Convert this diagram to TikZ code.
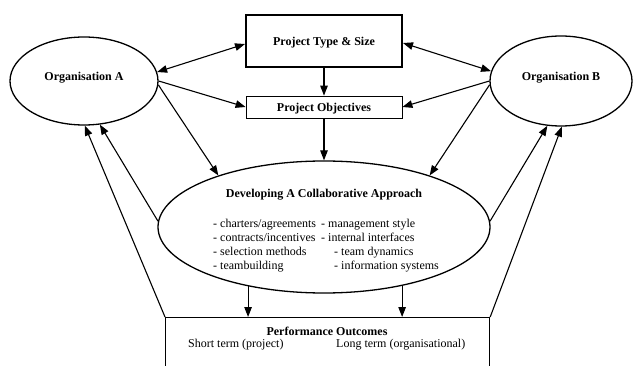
\documentclass[tikz,border=0pt]{standalone}
\usepackage{fontspec}
\setmainfont{Liberation Serif}
\usetikzlibrary{shapes.geometric,arrows.meta,calc}
\tikzset{
  tip/.tip={Triangle[length=10pt,width=7.5pt]},
  arr/.style={-tip, line width=1.1pt},
  darr/.style={tip-tip, line width=1.1pt},
  oval/.style={draw, ellipse, line width=1.3pt, inner sep=0pt},
  ttl/.style={font=\fontsize{12}{14}\selectfont\bfseries, anchor=base, inner sep=0pt},
  txt/.style={font=\fontsize{12}{14}\selectfont, anchor=base west, inner sep=0pt},
}
\begin{document}
\begin{tikzpicture}[x=1pt,y=-1pt]
\useasboundingbox (0,0) rectangle (634,366);
\clip (0,0) rectangle (634,366);
\fill[white] (0,0) rectangle (634,366);
% shapes
\node[oval, minimum width=148pt, minimum height=88pt] (orgA) at (84,81) {};
\node[oval, minimum width=142pt, minimum height=90pt] (orgB) at (561,81) {};
\node[oval, minimum width=332pt, minimum height=132pt] (collab) at (324,227) {};
\node[draw, line width=2pt, minimum width=156pt, minimum height=52pt, inner sep=0pt] (pt) at (324,41) {};
\node[draw, line width=0.8pt, minimum width=156pt, minimum height=22pt, inner sep=0pt] (po) at (324,107) {};
\node[draw, line width=1.2pt, minimum width=324pt, minimum height=90pt, inner sep=0pt, anchor=north west] (perf) at (165,317) {};
% texts
\node[ttl] (tA) at (84,81) {Organisation A};
\node[ttl] (tB) at (561,81) {Organisation B};
\node[ttl] (tpt) at (324,46) {Project Type \& Size};
\node[ttl] (tpo) at (324,112) {Project Objectives};
\node[ttl] (tcol) at (324,197) {Developing A Collaborative Approach};
\node[txt] (l1) at (213,227) {- charters/agreements};
\node[txt] (l2) at (213,241) {- contracts/incentives};
\node[txt] (l3) at (213,255) {- selection methods};
\node[txt] (l4) at (213,269) {- teambuilding};
\node[txt] (r1) at (321,227) {- management style};
\node[txt] (r2) at (321,241) {- internal interfaces};
\node[txt] (r3) at (334,255) {- team dynamics};
\node[txt] (r4) at (334,269) {- information systems};
\node[ttl] (tperf) at (327,335) {Performance Outcomes};
\node[txt] (s1) at (188,347) {Short term (project)};
\node[txt] (s2) at (336,347) {Long term (organisational)};
% connectors
\draw[darr] ([yshift=-3pt]pt.west) -- (orgA.7);
\draw[darr] ([yshift=-2pt]pt.east) -- (orgB.172);
\draw[arr] (pt.south) -- (po.north);
\draw[arr] (orgA.0) -- (po.west);
\draw[arr] (orgB.180) -- (po.east);
\draw[arr] (orgA.-3) -- (collab.154);
\draw[arr] (orgB.183) -- (collab.26);
\draw[arr] (po.south) -- (collab.north);
\draw[arr] (collab.178) -- (orgA.-70);
\draw[arr] (perf.north west) -- (orgA.-89);
\draw[arr] (collab.2) -- (orgB.-107);
\draw[arr] (perf.north east) -- (orgB.-89);
\draw[arr] (collab.-142.8) -- (collab.-142.8 |- perf.north);
\draw[arr] (collab.-37.2) -- (collab.-37.2 |- perf.north);
\end{tikzpicture}
\end{document}
